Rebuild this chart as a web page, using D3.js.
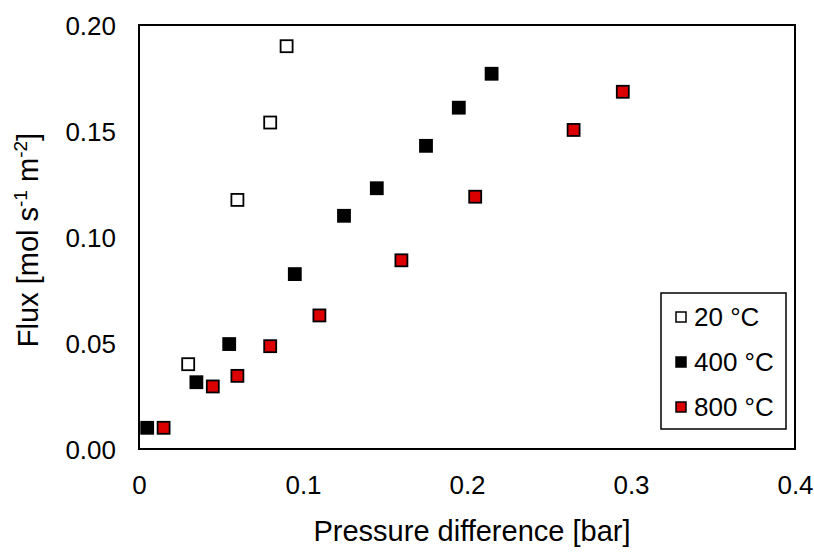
<!DOCTYPE html>
<html>
<head>
<meta charset="utf-8">
<script src="https://cdn.jsdelivr.net/npm/d3@7"></script>
<style>
  html, body { margin: 0; padding: 0; background: #fff; }
  svg { display: block; font-family: "Liberation Sans", Arial, sans-serif; }
</style>
</head>
<body>
<svg id="chart" width="814" height="553"></svg>
<script>
// Flux vs. pressure difference at three temperatures
const seriesNames = ["20 °C", "400 °C", "800 °C"];

const dp20  = [0.03, 0.06, 0.08, 0.09];
const flux20 = [0.040, 0.1175, 0.154, 0.190];

const dp400  = [0.005, 0.035, 0.055, 0.095, 0.125, 0.145, 0.175, 0.195, 0.215];
const flux400 = [0.010, 0.0315, 0.0495, 0.0825, 0.110, 0.123, 0.143, 0.161, 0.177];

const dp800  = [0.015, 0.045, 0.060, 0.080, 0.110, 0.160, 0.205, 0.265, 0.295];
const flux800 = [0.010, 0.0295, 0.0345, 0.0485, 0.063, 0.089, 0.119, 0.1505, 0.1685];

const xTicks = [0, 0.1, 0.2, 0.3, 0.4];
const xTickLabels = ["0", "0.1", "0.2", "0.3", "0.4"];
const yTicks = [0, 0.05, 0.10, 0.15, 0.20];
const yTickLabels = ["0.00", "0.05", "0.10", "0.15", "0.20"];

const xTitle = "Pressure difference [bar]";

const styles = [
  { fill: "#ffffff", stroke: "#000000" },
  { fill: "#000000", stroke: "#000000" },
  { fill: "#dc0000", stroke: "#000000" }
];

const series = [
  { name: seriesNames[0], xs: dp20, ys: flux20, style: styles[0] },
  { name: seriesNames[1], xs: dp400, ys: flux400, style: styles[1] },
  { name: seriesNames[2], xs: dp800, ys: flux800, style: styles[2] }
];

const svg = d3.select("#chart");
const plot = { left: 139, right: 795, top: 25, bottom: 449 };

const x = d3.scaleLinear().domain([0, 0.4]).range([plot.left, plot.right]);
const y = d3.scaleLinear().domain([0, 0.20]).range([plot.bottom, plot.top]);

// Tick labels (no tick marks)
const xAxis = d3.axisBottom(x)
  .tickValues(xTicks)
  .tickFormat((d, i) => xTickLabels[i])
  .tickSize(0)
  .tickPadding(27);
const yAxis = d3.axisLeft(y)
  .tickValues(yTicks)
  .tickFormat((d, i) => yTickLabels[i])
  .tickSize(0)
  .tickPadding(23);

const gx = svg.append("g")
  .attr("transform", `translate(0,${plot.bottom})`)
  .call(xAxis);
const gy = svg.append("g")
  .attr("transform", `translate(${plot.left},0)`)
  .call(yAxis);
[gx, gy].forEach(g => {
  g.select(".domain").remove();
  g.selectAll("text")
    .attr("font-family", "Liberation Sans, Arial, sans-serif")
    .attr("font-size", 26)
    .attr("fill", "#000");
});
gy.selectAll("text").attr("dy", "0.35em");

// Plot frame
svg.append("rect")
  .attr("x", plot.left)
  .attr("y", plot.top)
  .attr("width", plot.right - plot.left)
  .attr("height", plot.bottom - plot.top)
  .attr("fill", "none")
  .attr("stroke", "#000")
  .attr("stroke-width", 2);

// Markers
const size = 12;
series.forEach(s => {
  const pts = s.xs.map((v, i) => [v, s.ys[i]]);
  svg.append("g").selectAll("rect")
    .data(pts)
    .join("rect")
    .attr("x", d => x(d[0]) - size / 2)
    .attr("y", d => y(d[1]) - size / 2)
    .attr("width", size)
    .attr("height", size)
    .attr("fill", s.style.fill)
    .attr("stroke", s.style.stroke)
    .attr("stroke-width", 1.8);
});

// Axis titles
svg.append("text")
  .attr("x", (plot.left + plot.right) / 2 + 5)
  .attr("y", 541)
  .attr("text-anchor", "middle")
  .attr("font-size", 29)
  .attr("fill", "#000")
  .text(xTitle);

const yt = svg.append("text")
  .attr("transform", "translate(38,240) rotate(-90)")
  .attr("text-anchor", "middle")
  .attr("font-size", 29)
  .attr("fill", "#000");
yt.append("tspan").text("Flux [mol s");
yt.append("tspan").attr("font-size", 19).attr("dy", -11).text("-1");
yt.append("tspan").attr("dy", 11).text(" m");
yt.append("tspan").attr("font-size", 19).attr("dy", -11).text("-2");
yt.append("tspan").attr("dy", 11).text("]");

// Legend
const legend = { x: 661, y: 293, w: 125, h: 136 };
svg.append("rect")
  .attr("x", legend.x)
  .attr("y", legend.y)
  .attr("width", legend.w)
  .attr("height", legend.h)
  .attr("fill", "#fff")
  .attr("stroke", "#000")
  .attr("stroke-width", 1.5);

const rowY = d3.scalePoint().domain(seriesNames).range([317, 407]);
const lg = svg.append("g").selectAll("g")
  .data(series)
  .join("g")
  .attr("transform", d => `translate(0,${rowY(d.name)})`);
lg.append("rect")
  .attr("x", 676)
  .attr("y", -5)
  .attr("width", 10)
  .attr("height", 10)
  .attr("fill", d => d.style.fill)
  .attr("stroke", d => d.style.stroke)
  .attr("stroke-width", 1.5);
lg.append("text")
  .attr("x", 694)
  .attr("dy", "0.35em")
  .attr("font-size", 26)
  .attr("fill", "#000")
  .text(d => d.name);
</script>
</body>
</html>
